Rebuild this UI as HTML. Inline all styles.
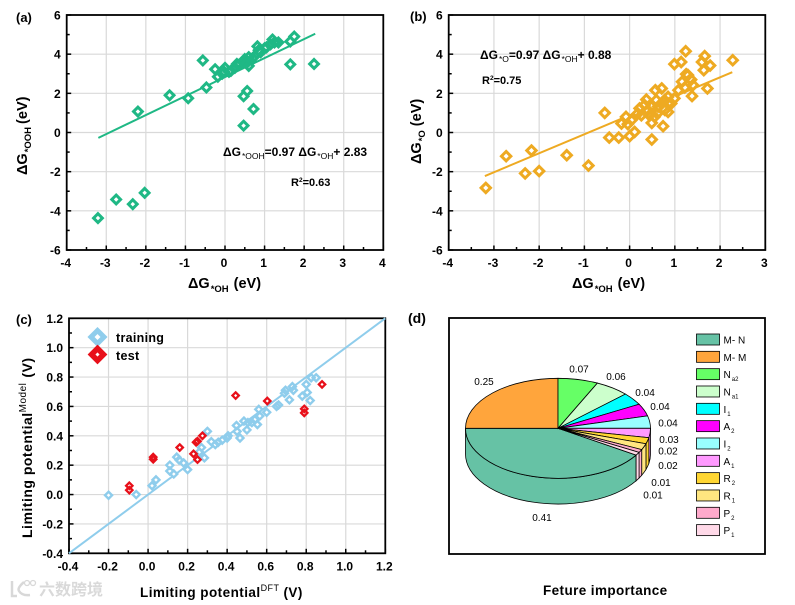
<!DOCTYPE html>
<html lang="en">
<head>
<meta charset="utf-8">
<title>Adsorption energy scaling and limiting potential charts</title>
<style>
html,body{margin:0;padding:0;background:#fff;width:795px;height:605px;overflow:hidden}
svg{display:block}
text{font-family:"Liberation Sans",Arial,"Noto Sans CJK SC",sans-serif;fill:#000}
.tick{font-size:12px;font-weight:bold}
.title{font-size:14.5px;font-weight:bold}
.sub{font-size:9.5px;font-weight:bold}
.panel{font-size:13px;font-weight:bold}
.note{font-size:12px;font-weight:bold}
.notesub{font-size:8.5px;font-weight:normal}
</style>
</head>
<body>
<svg id="figure" width="795" height="605" viewBox="0 0 795 605" xmlns="http://www.w3.org/2000/svg">
<rect x="0" y="0" width="795" height="605" fill="#fff"/>
<g id="chart-a"></g>
<g id="chart-b"></g>
<g id="chart-c"></g>
<g id="chart-d"></g>

<text class="panel" x="16" y="22">(a)</text>
<text class="panel" x="410" y="21">(b)</text>
<text class="panel" x="16" y="324">(c)</text>
<text class="panel" x="408" y="323" style="font-size:14px">(d)</text>

<text class="title" x="188" y="288">ΔG<tspan class="sub" dy="4" dx="1">*OH</tspan><tspan dy="-4" dx="5">(eV)</tspan></text>
<text class="title" transform="translate(27,175) rotate(-90)">ΔG<tspan class="sub" dy="4" dx="1">*OOH</tspan><tspan dy="-4" dx="3">(eV)</tspan></text>
<text class="title" x="572" y="288">ΔG<tspan class="sub" dy="4" dx="1">*OH</tspan><tspan dy="-4" dx="5">(eV)</tspan></text>
<text class="title" transform="translate(421,164) rotate(-90)">ΔG<tspan class="sub" dy="4" dx="1">*O</tspan><tspan dy="-4" dx="4">(eV)</tspan></text>
<text class="title" x="140" y="597" style="font-size:13.5px;letter-spacing:.45px">Limiting potential<tspan style="font-size:9px;font-weight:normal" dy="-6">DFT</tspan><tspan dy="6" dx="4">(V)</tspan></text>
<text class="title" transform="translate(32,538) rotate(-90)" style="font-size:14px;letter-spacing:.5px">Limiting potential<tspan style="font-size:10px;font-weight:normal" dy="-6">Model</tspan><tspan dy="6" dx="5">(V)</tspan></text>
<text class="title" x="543" y="595" style="font-size:13.5px;letter-spacing:.4px">Feture importance</text>

<text class="note" x="223" y="156">ΔG<tspan class="notesub" dy="3" dx="1">*OOH</tspan><tspan dy="-3">=0.97 ΔG</tspan><tspan class="notesub" dy="3" dx="1">*OH</tspan><tspan dy="-3">+ 2.83</tspan></text>
<text class="note" x="291" y="186" style="font-size:11px">R<tspan style="font-size:6.5px" dy="-4">2</tspan><tspan dy="4">=0.63</tspan></text>
<text class="note" x="480" y="59">ΔG<tspan class="notesub" dy="3" dx="1">*O</tspan><tspan dy="-3">=0.97 ΔG</tspan><tspan class="notesub" dy="3" dx="1">*OH</tspan><tspan dy="-3">+ 0.88</tspan></text>
<text class="note" x="482" y="84" style="font-size:11px">R<tspan style="font-size:6.5px" dy="-4">2</tspan><tspan dy="4">=0.75</tspan></text>

<g>
  <path d="M97.500 330.500 l6.500 6.500 l-6.500 6.500 l-6.500 -6.500 Z" fill="#fff" stroke="#8fcdec" stroke-width="5"/>
  <text x="116" y="342" style="font-size:12.5px;font-weight:bold;letter-spacing:.3px">training</text>
  <path d="M97.500 348.500 l6 6 l-6 6 l-6 -6 Z" fill="#fff" stroke="#e8101a" stroke-width="5.500"/>
  <text x="116" y="360" style="font-size:12.5px;font-weight:bold;letter-spacing:.3px">test</text>
</g>

<g opacity="0.95">
  <path d="M12 581 v15 h5 M24 582 q-7 6 -5 9 q3 5 11 4" fill="none" stroke="#d6d6d6" stroke-width="2.500"/>
  <circle cx="27" cy="583" r="2.500" fill="none" stroke="#d6d6d6" stroke-width="1.300"/>
  <circle cx="33" cy="583" r="2.500" fill="none" stroke="#d6d6d6" stroke-width="1.300"/>
  <text x="39" y="595" style="font-size:16px;font-weight:bold;fill:#d8d8d8;font-family:'Liberation Sans','Noto Sans CJK SC',sans-serif">六数跨境</text>
</g>

<script>
var NS = 'http://www.w3.org/2000/svg';

/* panel (a) data */
var aXTicks = [-4, -3, -2, -1, 0, 1, 2, 3, 4];
var aYTicks = [-6, -4, -2, 0, 2, 4, 6];
var aPointsX = [-3.21,-2.75,-2.33,-2.03,-2.2,-1.4,-0.93,-0.56,-0.47,-0.25,-0.18,-0.07,0,-0.02,0.1,0.15,0.25,0.3,0.35,0.45,0.5,0.55,0.6,0.6,0.7,0.75,0.82,0.9,0.85,1,1.05,1.15,1.2,1.25,1.35,1.65,1.75,1.65,2.25,0.47,0.72,0.47,0.56];
var aPointsY = [-4.37,-3.42,-3.66,-3.08,1.07,1.9,1.75,3.68,2.3,3.23,2.85,3,3.3,3.1,3.1,3.15,3.3,3.5,3.45,3.6,3.75,3.55,3.4,3.85,3.8,3.9,4.4,4.1,4.2,4.3,4.35,4.5,4.75,4.6,4.6,4.65,4.9,3.48,3.5,0.35,1.2,1.85,2.12];
var aFitX = [-3.2, 2.28];
var aFitSlope = 0.97;
var aFitIntercept = 2.83;

/* panel (b) data */
var bXTicks = [-4, -3, -2, -1, 0, 1, 2, 3];
var bYTicks = [-6, -4, -2, 0, 2, 4, 6];
var bPointsX = [-3.18,-2.73,-2.31,-2.17,-2,-1.39,-0.91,-0.55,-0.45,-0.24,-0.18,-0.08,-0.04,0,0.11,0.04,0.18,0.26,0.22,0.37,0.33,0.4,0.49,0.49,0.57,0.59,0.61,0.74,0.71,0.77,0.85,0.85,0.92,0.99,0.99,1.08,1.14,1.16,1.24,1.25,1.29,1.22,1.36,1.4,1.38,1.6,1.66,1.64,1.78,1.72,2.28,0.48,0.63,0.7,0.85,0.78,0.55,0.44];
var bPointsY = [-2.83,-1.21,-2.09,-0.92,-1.97,-1.16,-1.69,1,-0.26,-0.26,0.46,0.8,0.43,-0.19,0.03,0.63,0.97,0.88,1.23,1.68,1.4,1.14,0.49,-0.36,2.16,1.65,0.97,0.32,2.25,1.65,1.82,1.05,1.48,1.74,3.49,2.16,3.6,2.59,4.15,2.98,2.93,2.3,2.7,2.42,1.86,3.6,3.9,3.18,3.42,2.25,3.69,1.32,1.32,1.48,1.48,1.15,0.8,0.88];
var bFitX = [-3.2, 2.27];
var bFitSlope = 0.97;
var bFitIntercept = 0.88;

/* panel (c) data */
var cXTicks = [-0.4, -0.2, 0, 0.2, 0.4, 0.6, 0.8, 1, 1.2];
var cYTicks = [-0.4, -0.2, 0, 0.2, 0.4, 0.6, 0.8, 1, 1.2];
var cTrainX = [-0.2,-0.06,0.02,0.04,0.11,0.11,0.13,0.145,0.157,0.18,0.2,0.245,0.27,0.285,0.3,0.26,0.32,0.34,0.355,0.375,0.4,0.405,0.447,0.45,0.465,0.485,0.5,0.505,0.525,0.54,0.553,0.56,0.565,0.6,0.65,0.66,0.695,0.69,0.715,0.73,0.735,0.78,0.8,0.805,0.82,0.825,0.85];
var cTrainY = [-0.005,0,0.06,0.1,0.2,0.16,0.14,0.255,0.235,0.215,0.17,0.26,0.32,0.25,0.43,0.29,0.36,0.34,0.356,0.37,0.385,0.4,0.47,0.43,0.385,0.5,0.44,0.49,0.49,0.51,0.477,0.58,0.535,0.56,0.6,0.61,0.71,0.69,0.645,0.735,0.71,0.67,0.75,0.695,0.64,0.795,0.795];
var cTestX = [-0.095,-0.095,0.026,0.026,0.16,0.23,0.25,0.243,0.25,0.275,0.443,0.603,0.79,0.79,0.88];
var cTestY = [0.06,0.03,0.255,0.24,0.32,0.277,0.238,0.356,0.363,0.4,0.674,0.637,0.583,0.556,0.75];
var cFitX = [-0.4, 1.2];
var cFitSlope = 1;
var cFitIntercept = 0;

/* panel (d) data */
var pieValues = [0.41, 0.25, 0.07, 0.06, 0.04, 0.04, 0.04, 0.03, 0.02, 0.02, 0.01, 0.01];
var pieNames = ['M- N', 'M- M', 'N', 'N', 'I', 'A', 'I', 'A', 'R', 'R', 'P', 'P'];
var pieSubs = ['', '', 'a2', 'a1', '1', '2', '2', '1', '2', '1', '2', '1'];
var pieColors = ['#66c2a5', '#ffa53c', '#66ff66', '#ccffcc', '#00ffff', '#ff00ff', '#99ffff', '#ff99ff', '#ffd633', '#ffe680', '#ffaacc', '#ffd9e8'];

/* layout nudges (not data): label offset from rim */
var pieLabelDx = [9.8, -8.6, 0.8, 3.6, 12.2, 16, 18.2, 18.9, 20.4, 24, 20.6, 15.4];
var pieLabelDy = [41.4, -11.2, -10.5, -11.2, -6.2, -3.2, 1, 6.7, 10.3, 19, 31.7, 41.2];

function mk(parent, tag, attrs, txt) {
  var e = document.createElementNS(NS, tag);
  for (var k in attrs) { e.setAttribute(k, attrs[k]); }
  if (txt !== undefined) { e.textContent = txt; }
  parent.appendChild(e);
  return e;
}
function scale(d0, d1, r0, r1) {
  return function (v) { return r0 + (v - d0) * (r1 - r0) / (d1 - d0); };
}
function diamond(cx, cy, r) {
  return 'M' + cx + ' ' + (cy - r) + 'L' + (cx + r) + ' ' + cy + 'L' + cx + ' ' + (cy + r) + 'L' + (cx - r) + ' ' + cy + 'Z';
}

function drawAxes(g, box, xTicks, yTicks, fmt) {
  var sx = scale(xTicks[0], xTicks[xTicks.length - 1], box.x0, box.x1);
  var sy = scale(yTicks[0], yTicks[yTicks.length - 1], box.y1, box.y0);
  xTicks.forEach(function (t, i) {
    var x = sx(t);
    if (i > 0 && i < xTicks.length - 1) {
      var gl = mk(g, 'line', {x1: x, x2: x, y1: box.y0, y2: box.y1, stroke: '#d9d9d9', 'stroke-width': 1.2});
      
      
    }
  });
  yTicks.forEach(function (t, i) {
    var y = sy(t);
    if (i > 0 && i < yTicks.length - 1) {
      var gl = mk(g, 'line', {x1: box.x0, x2: box.x1, y1: y, y2: y, stroke: '#d9d9d9', 'stroke-width': 1.2});
      
      
    }
  });
  xTicks.forEach(function (t, i) {
    var x = sx(t);
    var tk = mk(g, 'line', {x1: x, x2: x, y1: box.y1, y2: box.y1 - 4.5, stroke: '#000', 'stroke-width': 1.5});
    
    
    if (i < xTicks.length - 1) {
      var xm = (x + sx(xTicks[i + 1])) / 2;
      var mn = mk(g, 'line', {x1: xm, x2: xm, y1: box.y1, y2: box.y1 - 3, stroke: '#000', 'stroke-width': 1.5});
      
      
    }
    var lb = mk(g, 'text', {x: x - 1, y: box.y1 + 17, 'text-anchor': 'middle', 'class': 'tick'}, fmt(t));
    
    
  });
  yTicks.forEach(function (t, i) {
    var y = sy(t);
    var tk = mk(g, 'line', {x1: box.x0, x2: box.x0 + 4.5, y1: y, y2: y, stroke: '#000', 'stroke-width': 1.5});
    
    
    if (i < yTicks.length - 1) {
      var ym = (y + sy(yTicks[i + 1])) / 2;
      var mn = mk(g, 'line', {x1: box.x0, x2: box.x0 + 3, y1: ym, y2: ym, stroke: '#000', 'stroke-width': 1.5});
      
      
    }
    var lb = mk(g, 'text', {x: box.x0 - 6, y: y + 4.5, 'text-anchor': 'end', 'class': 'tick'}, fmt(t));
    
    
  });
  var fr = mk(g, 'rect', {x: box.x0, y: box.y0, width: box.x1 - box.x0, height: box.y1 - box.y0, fill: 'none', stroke: '#000', 'stroke-width': 1.8});
  
  
  return {x: sx, y: sy};
}

function drawFit(g, s, xs, m, b, color) {
  var ln = mk(g, 'line', {x1: s.x(xs[0]), y1: s.y(m * xs[0] + b), x2: s.x(xs[1]), y2: s.y(m * xs[1] + b), stroke: color, 'stroke-width': 2});
  
  
}

/* white hole pass first, so the fit line never shows through; strokes then stack on top */
function drawPoints(g, s, xs, ys, color, r, sw, name) {
  xs.forEach(function (v, i) {
    var h = mk(g, 'path', {d: diamond(s.x(v), s.y(ys[i]), r), fill: '#fff', stroke: 'none'});
    
    
  });
  xs.forEach(function (v, i) {
    var p = mk(g, 'path', {d: diamond(s.x(v), s.y(ys[i]), r), fill: 'none', stroke: color, 'stroke-width': sw});
    
    
  });
}

var gA = document.getElementById('chart-a');
var sA = drawAxes(gA, {x0: 66.7, x1: 383.3, y0: 15, y1: 250}, aXTicks, aYTicks, String);
drawFit(gA, sA, aFitX, aFitSlope, aFitIntercept, '#1fb885');
drawPoints(gA, sA, aPointsX, aPointsY, '#1fb885', 4.4, 3, 'point-a');

var gB = document.getElementById('chart-b');
var sB = drawAxes(gB, {x0: 448.7, x1: 765.3, y0: 15, y1: 250}, bXTicks, bYTicks, String);
drawFit(gB, sB, bFitX, bFitSlope, bFitIntercept, '#eeaa22');
drawPoints(gB, sB, bPointsX, bPointsY, '#eeaa22', 4.7, 3, 'point-b');

var gC = document.getElementById('chart-c');
var sC = drawAxes(gC, {x0: 69, x1: 385.3, y0: 318.3, y1: 553.3}, cXTicks, cYTicks, function (t) { return t.toFixed(1); });
drawFit(gC, sC, cFitX, cFitSlope, cFitIntercept, '#8fcdec');
drawPoints(gC, sC, cTrainX, cTrainY, '#8fcdec', 3.5, 2.4, 'point-training');
drawPoints(gC, sC, cTestX, cTestY, '#e8101a', 3.2, 2.3, 'point-test');

/* pie */
var gD = document.getElementById('chart-d');
var frameD = mk(gD, 'rect', {x: 449, y: 318, width: 316, height: 236, fill: '#fff', stroke: '#000', 'stroke-width': 1.8});



var pieCx = 558, pieCy = 428.3, pieRx = 92.5, pieRy = 50, pieDepth = 25.7;
function rim(a, dy) {
  var t = a * Math.PI / 180;
  return [pieCx + pieRx * Math.sin(t), pieCy - pieRy * Math.cos(t) + (dy || 0)];
}
var pieTotal = pieValues.reduce(function (s, v) { return s + v; }, 0);
var pieEnd = 270;
var pieFirstSweep = pieValues[0] / pieTotal * 360;
var pieAngle = pieEnd - pieFirstSweep;
var pieSlices = pieValues.map(function (v) {
  var sw = v / pieTotal * 360;
  var s = {a0: pieAngle, a1: pieAngle + sw};
  pieAngle += sw;
  return s;
});
/* side walls for the front half (90..270 deg, also 450..630) */
pieSlices.forEach(function (s, i) {
  [0, 360].forEach(function (off) {
    var a0 = Math.max(s.a0 - off, 90), a1 = Math.min(s.a1 - off, 270);
    if (a1 <= a0) { return; }
    var p0 = rim(a0), p1 = rim(a1), q1 = rim(a1, pieDepth), q0 = rim(a0, pieDepth);
    var d = 'M' + p0[0] + ' ' + p0[1] + 'A' + pieRx + ' ' + pieRy + ' 0 0 1 ' + p1[0] + ' ' + p1[1] +
      'L' + q1[0] + ' ' + q1[1] + 'A' + pieRx + ' ' + pieRy + ' 0 0 0 ' + q0[0] + ' ' + q0[1] + 'Z';
    var w = mk(gD, 'path', {d: d, fill: pieColors[i], stroke: '#000', 'stroke-width': 0.8});
    
    
  });
});
pieSlices.forEach(function (s, i) {
  var p0 = rim(s.a0), p1 = rim(s.a1);
  var large = (s.a1 - s.a0) > 180 ? 1 : 0;
  var d = 'M' + pieCx + ' ' + pieCy + 'L' + p0[0] + ' ' + p0[1] + 'A' + pieRx + ' ' + pieRy + ' 0 ' + large + ' 1 ' + p1[0] + ' ' + p1[1] + 'Z';
  var t = mk(gD, 'path', {d: d, fill: pieColors[i], stroke: '#000', 'stroke-width': 0.8});
  
  
  var m = rim((s.a0 + s.a1) / 2);
  var lb = mk(gD, 'text', {x: m[0] + pieLabelDx[i], y: m[1] + pieLabelDy[i] + 3.5, 'text-anchor': 'middle', style: 'font-size:10px'}, pieValues[i].toFixed(2));
  
  
});
/* legend */
pieNames.forEach(function (n, i) {
  var y = 334 + i * 17.33;
  var sw = mk(gD, 'rect', {x: 696.5, y: y, width: 23, height: 11, fill: pieColors[i], stroke: '#000', 'stroke-width': 0.8});
  
  
  var t = mk(gD, 'text', {x: 723.5, y: y + 9.5, style: 'font-size:10px'}, n);
  
  
  if (pieSubs[i]) {
    var ts = mk(t, 'tspan', {dy: 3, dx: 1, style: 'font-size:6px'}, pieSubs[i]);
    
    
  }
});
</script>
</svg>
</body>
</html>
